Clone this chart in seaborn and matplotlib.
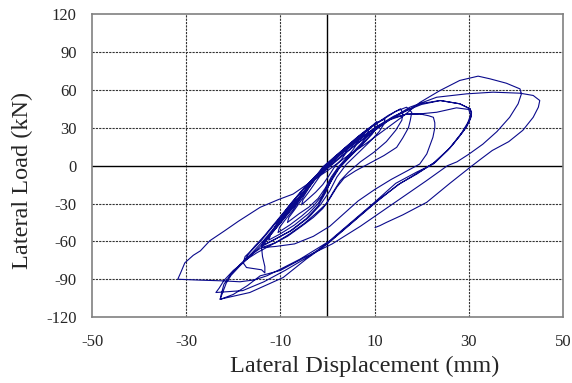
import numpy as np
import pandas as pd
import matplotlib
matplotlib.use("Agg")
import matplotlib.pyplot as plt
import seaborn as sns

# ---- data (lateral displacement mm, lateral load kN) ----
core_x = [0, 1, 2.5, 4,
          3.9, 3, 1.5, 0.3, -1, -2.5, -4, -5.5,
          -5.2, -4, -2.5, -1, 1, 3, 5, 6.5,
          6.4, 5.5, 4, 2.3, 0.8, -0.5, -2, -4, -6, -8.5,
          -8.2, -7, -5.5, -4, -2.5, -0.8, 1.5, 4, 6.5, 8.7,
          8.7, 7.5, 5.5, 3.5, 1.8, 0.3, -1.2, -3, -5.5, -8, -10.5,
          -10.2, -9, -7.3, -5.5, -3.5, -1.5, 1, 3.5, 6, 8.3, 10,
          10, 8.8, 6.8, 4.5, 2.5, 1, -0.5, -2, -4, -7, -10, -12.5,
          -12.1, -10.8, -9, -7, -5, -3, -1, 1.5, 4, 6.5, 8.5, 10.5,
          10.6, 9.5, 7.5, 5, 2.7, 1, -0.5, -2, -4.5, -8, -11, -13.7,
          -13.2, -11.5, -9.5, -7.3, -5, -3, -1, 1.5, 4, 6.5, 8.5, 10.5, 12.2,
          12, 11, 9, 6.5, 4, 2, 0.5, -1.5, -4, -7.5, -11, -14,
          -13.5, -12, -10, -7.8, -5.5, -3.3, -1.2, 1.3, 4, 6.5, 9, 11, 13, 15.5]
core_y = [0, 4, 9, 13,
          10, 5, -1, -8, -15, -21, -26, -31,
          -27, -21, -13, -5, 3, 10, 17, 22,
          18, 13, 6, -1, -9, -18, -26, -33, -38, -45,
          -41, -35, -27, -18, -10, -2, 6, 14, 22, 29,
          25, 19, 11, 3, -5, -14, -24, -32, -40, -47, -53,
          -49, -43, -35, -25, -15, -5, 4, 12, 20, 27, 33,
          29, 23, 15, 6, -2, -11, -21, -30, -38, -47, -54, -59,
          -55, -49, -41, -32, -22, -12, -3, 6, 14, 22, 28, 35,
          31, 25, 17, 8, 0, -10, -22, -32, -42, -52, -58, -63,
          -59, -52, -43, -32, -21, -11, -1, 7, 15, 23, 29, 34, 37,
          33, 27, 19, 10, 1, -9, -20, -31, -41, -51, -58, -64,
          -60, -54, -45, -34, -23, -13, -3, 6, 15, 23, 30, 35, 40, 45]

mid_x = [16, 15.8, 14.5, 12.5, 10, 7, 4.5, 2.7, 1.2, -0.2, -2.5, -5, -8, -11, -14,
         -13.6, -12.3, -10.5, -8.5, -6.5, -4.2, -2, 0.5, 3.5, 6.5, 9.5, 12, 14.5, 16.8,
         17.9, 17.6, 17.2, 16, 14.7, 12, 9, 6, 3.5, 2, 0.5, -1, -3, -5.5, -8.5, -12, -15, -17.5,
         -17, -15.5, -13.5, -11.5, -9.5, -7.3, -5, -2.5, 0.5, 4, 7.5, 11, 14, 17, 19.6, 21.5, 22.5,
         22.8, 22.8, 22.4, 21.1, 19.6, 17, 13.5, 10, 6.5, 3.5, 0.5, -3, -7, -11, -14,
         -13.8, -13.3, -13.3, -14, -17.2, -17.9,
         -17.5, -15.8, -14, -12, -10, -8, -5.5, -3, 0, 3.5, 7, 10.5, 14, 17, 20, 24, 28.1, 30.3]
mid_y = [42, 36, 28, 19, 11, 3, -5, -12, -21, -30, -38, -46, -54, -61, -65,
         -61, -55, -47, -38, -28, -17, -7, 3, 13, 22, 31, 37, 43, 46.3,
         42.3, 36, 30, 22, 14.5, 8, 2, -4, -10, -17, -26, -34, -41, -48, -56, -63, -69, -75,
         -71, -64, -56, -47, -38, -28, -18, -8, 2, 13, 23, 32, 38, 41, 41, 39.5, 38.3,
         34, 30, 22.5, 9.3, 1.3, -4, -11, -19, -28, -38, -48, -56, -62, -64, -65,
         -72, -80, -85, -82.5, -80.7, -77,
         -72, -66, -59, -50, -41, -31, -20, -10, 1, 12, 22, 31, 39, 44, 48.5, 51.6, 49, 45]

big_x = [30.6, 30.2, 29, 26.5, 23, 19.5, 15.5, 10.5, 5.5, 0.5, -4, -9, -13.5, -18, -23.7,
         -23, -22, -20, -17.9, -16, -14, -12.3, -10.8, -8.8, -6.5, -4, -1, 2.5, 6, 9.5, 13, 16.5, 19.6, 23.2, 27.4, 30,
         30.4, 29.8, 28.5, 26, 22.5, 19, 15, 10, 5, 0, -4.5, -9.4, -16.5, -22.8,
         -22.2, -21.5, -20.5, -18.5, -16.5, -14.3, -12.5, -10.5, -8.5, -6, -3.5, -0.5, 3, 6.5, 10, 13.5, 16.5, 19.6, 23.9, 28.1, 30.3, 30.6,
         30.5, 29.6, 28, 25.5, 22.5, 19, 14.5, 9.7, 5, 0.3, -5.8, -10, -12.9, -15.5, -18.6, -22, -27, -31.8]
big_y = [41, 36, 28, 16, 3, -5, -14, -28, -44, -60, -72, -83, -92, -99, -100.5,
         -97, -91, -83, -76.7, -70, -64.8, -56, -46.3, -36, -25, -14, -3, 8, 18, 28, 36, 40.5, 41, 42.3, 45.8, 44.5,
         40, 34, 26, 14, 2, -6.6, -15, -30, -46, -62, -74, -88.6, -100.5, -105.8,
         -100, -93, -87, -79, -72, -64, -56, -46, -36, -25, -14, -3, 8, 18, 28, 37, 43, 49, 51.6, 49, 45, 42.3,
         38.3, 31, 23, 12, 1.3, -5, -14, -30, -45, -60, -74, -82, -87.3, -90.5, -92, -91.3, -90.7, -90]

final_x = [-31.2, -30.3, -28.5, -27, -25, -22, -18.9, -14.3, -10.5, -7.3, -4, 0, 4, 8, 12, 16, 19.6, 23.9, 28.1, 32,
           34.5, 38, 40.9, 41.2, 40.5, 38.7, 36, 33, 30, 27.5, 25.5, 21, 14, 7, 1, -5, -10, -14.3, -17, -20, -22.8,
           -22.5, -22, -20.5, -18.5, -16, -13.5, -11.5, -9.5, -7, -4.5, -1.5, 2, 5.5, 9, 13, 17.5, 23.2, 29.6, 35.2, 40.9, 43.7, 45.1,
           44.8, 43.7, 41.5, 38.5, 35, 32.5, 30.3, 26, 21.1, 16, 12.5, 11.1, 10.1]
final_y = [-85, -77, -71, -67.5, -59.5, -52, -44, -33, -27, -22.5, -14, -4, 7, 17, 28, 39, 50, 59.5, 67.5, 70.9,
           68.8, 65.3, 60.8, 56.9, 49, 38.3, 27, 17, 9, 3, 0, -12, -30, -48, -62, -73, -83, -87.3, -95, -102, -106,
           -101, -94, -86, -78, -69, -59, -50, -40, -29, -18, -7, 4, 15, 25, 36, 46.3, 54.2, 56.9, 58.2, 57.4, 55.6, 51.6,
           46.3, 38.3, 28, 19, 12, 5, -1.3, -14, -29, -39, -45, -47.6, -49]

x_ticks = [-50, -30, -10, 10, 30, 50]
y_ticks = [-120, -90, -60, -30, 0, 30, 60, 90, 120]

# ---- figure ----
sns.set_style("white")
plt.rcParams["font.family"] = ["Liberation Serif", "DejaVu Serif"]

fig = plt.figure(figsize=(5.72, 3.83), dpi=100)
ax = fig.add_axes([0.161, 0.172, 0.823, 0.791])

xs = core_x + mid_x + big_x + final_x
ys = core_y + mid_y + big_y + final_y
df = pd.DataFrame({"disp": xs, "load": ys})

# grid
for gx in [-30, -10, 10, 30]:
    ax.axvline(gx, color="#333333", lw=0.8, ls=(0, (2, 1)), zorder=0)
for gy in [-90, -60, -30, 30, 60, 90]:
    ax.axhline(gy, color="#333333", lw=0.8, ls=(0, (2, 1)), zorder=0)
ax.axvline(0, color="black", lw=1.0, zorder=0)
ax.axhline(0, color="black", lw=1.0, zorder=0)

sns.lineplot(data=df, x="disp", y="load", sort=False, estimator=None,
             color="#0a0a8c", lw=0.8, ax=ax)

ax.set_xlim(-50, 50)
ax.set_ylim(-120, 120)
ax.set_xticks(x_ticks)
ax.set_yticks(y_ticks)
ax.set_xticklabels([str(v) for v in x_ticks], fontsize=12)
ax.set_yticklabels([str(v) for v in y_ticks], fontsize=12)
ax.tick_params(axis="x", length=0, pad=12)
ax.tick_params(axis="y", length=0, pad=11)
ax.set_xlabel("Lateral Displacement (mm)", fontsize=17.5)
ax.set_ylabel("Lateral Load (kN)", fontsize=17.5)
ax.xaxis.set_label_coords(0.578, -0.128)
ax.yaxis.set_label_coords(-0.125, 0.45)
for s in ax.spines.values():
    s.set_color("#808080")
    s.set_linewidth(1.2)

fig.savefig("out.png", dpi=100)
